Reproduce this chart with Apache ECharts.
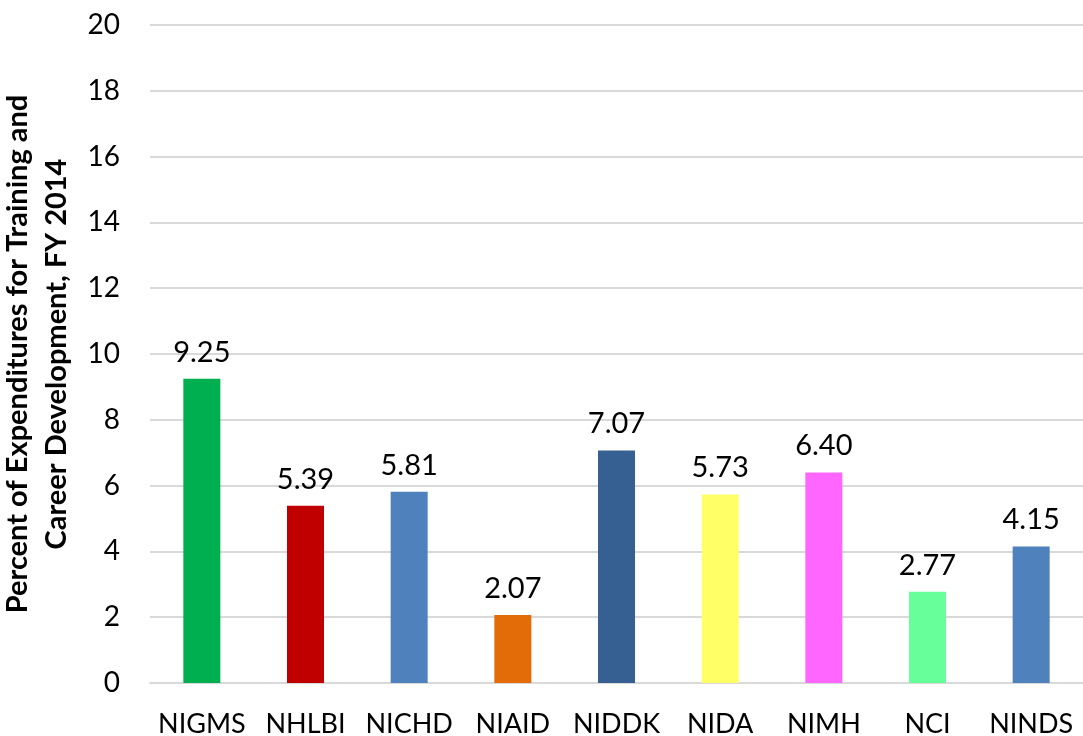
<!DOCTYPE html>
<html>
<head>
<meta charset="utf-8">
<script src="https://cdn.jsdelivr.net/npm/echarts@6/dist/echarts.min.js"></script>
<style>html,body{margin:0;padding:0;background:#fff}#c{width:1083px;height:736px}</style>
</head>
<body>
<div id="c"></div>
<script>
const categories = ['NIGMS','NHLBI','NICHD','NIAID','NIDDK','NIDA','NIMH','NCI','NINDS'];
const values = [9.25, 5.39, 5.81, 2.07, 7.07, 5.73, 6.40, 2.77, 4.15];
const barColors = ['#00B050','#C00000','#4F81BD','#E36C09','#366092','#FFFF66','#FF66FF','#66FF99','#4F81BD'];
const yTicks = [0,2,4,6,8,10,12,14,16,18,20];
const yName = 'Percent of Expenditures for Training and\nCareer Development, FY 2014';

const chart = echarts.init(document.getElementById('c'));
chart.setOption({
  animation: false,
  grid: { left: 150, right: 0, top: 25, bottom: 53, outerBoundsMode: 'none', containLabel: false },
  xAxis: {
    type: 'category',
    data: categories,
    axisLine: { lineStyle: { color: '#d9d9d9', width: 2 } },
    axisTick: { show: false },
    axisLabel: { color: '#000', fontFamily: 'Lato', fontSize: 27, margin: 28, interval: 0, hideOverlap: false }
  },
  yAxis: {
    type: 'value',
    min: yTicks[0], max: yTicks[yTicks.length-1], interval: 2,
    name: yName,
    nameLocation: 'middle',
    nameGap: 70,
    nameTextStyle: { color: '#000', fontFamily: 'Lato', fontWeight: 'bold', fontSize: 29, lineHeight: 39 },
    axisLine: { show: false },
    axisTick: { show: false },
    splitLine: { lineStyle: { color: '#d9d9d9', width: 2 } },
    axisLabel: { color: '#000', fontFamily: 'Lato', fontSize: 28, margin: 30 }
  },
  series: [{
    type: 'bar',
    data: values.map((v, i) => ({ value: v, itemStyle: { color: barColors[i] } })),
    barWidth: 37,
    label: {
      show: true, position: 'top', distance: 12,
      color: '#000', fontFamily: 'Lato', fontSize: 29,
      formatter: p => p.value.toFixed(2)
    }
  }]
});
</script>
</body>
</html>
